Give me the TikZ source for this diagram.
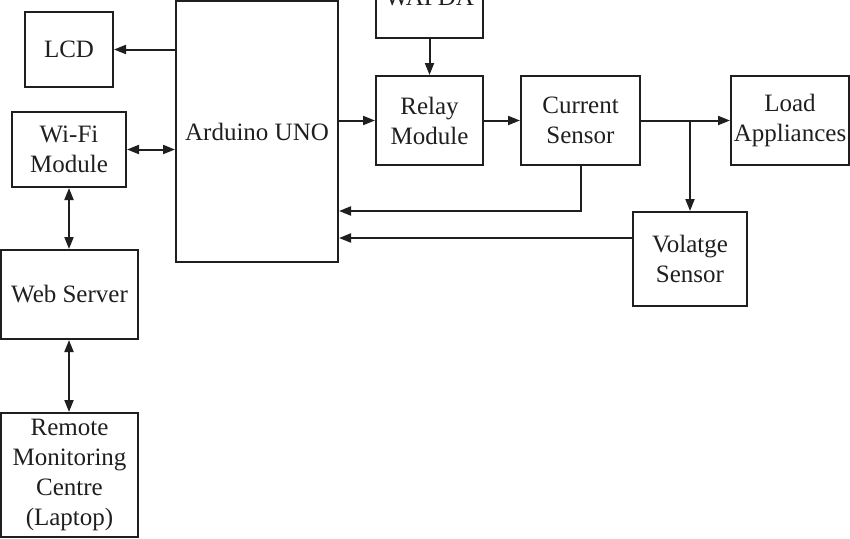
\documentclass[tikz,border=0pt]{standalone}
\usepackage{fontspec}
\setmainfont{Liberation Serif}
\usetikzlibrary{arrows.meta}
\begin{document}
\begin{tikzpicture}[x=1pt,y=-1pt,
  box/.style={draw=black!88, line width=2pt, inner sep=0pt, align=center,
    font=\fontsize{25}{30}\selectfont, text=black!88},
  conn/.style={draw=black!88, line width=2pt, -{Triangle[length=12pt,width=9pt]}},
  bconn/.style={draw=black!88, line width=2pt, {Triangle[length=12pt,width=9pt]}-{Triangle[length=12pt,width=9pt]}}]
\useasboundingbox (0,0) rectangle (850,538);
\clip (0,0) rectangle (850,538);
\node[box, minimum width=88pt, minimum height=75pt] (lcd) at (69,49.5) {LCD};
\node[box, minimum width=114pt, minimum height=75pt] (wifi) at (69,149.5) {Wi-Fi\\Module};
\node[box, minimum width=162pt, minimum height=261pt] (ard) at (257,131.5) {Arduino UNO};
\node[box, minimum width=107pt, minimum height=82pt] (wapda) at (429.5,-3) {WAPDA};
\node[box, minimum width=107pt, minimum height=89pt] (relay) at (429.5,120.5) {Relay\\Module};
\node[box, minimum width=119pt, minimum height=89pt] (cur) at (580.5,120.5) {Current\\Sensor};
\node[box, minimum width=118pt, minimum height=89pt] (load) at (790,120.5) {Load\\Appliances};
\node[box, minimum width=114pt, minimum height=94pt] (volt) at (690,259) {Volatge\\Sensor};
\node[box, minimum width=137pt, minimum height=89pt] (web) at (69.5,294.5) {Web Server};
\node[box, minimum width=137pt, minimum height=124pt] (rem) at (69.5,475) {Remote\\Monitoring\\Centre\\(Laptop)};
\coordinate (c1) at (0,211);
\coordinate (c2) at (0,238);
\draw[conn] (ard.west |- lcd.east) -- (lcd.east);
\draw[bconn] (wifi.east) -- (wifi.east -| ard.west);
\draw[conn] (relay.west -| ard.east) -- (relay.west);
\draw[conn] (wapda.south) -- (relay.north);
\draw[conn] (relay.east) -- (cur.west);
\draw[conn] (cur.east) -- (load.west);
\draw[conn] (cur.east -| volt.north) -- (volt.north);
\draw[conn] (cur.south) |- (ard.east |- c1);
\draw[conn] (volt.west |- c2) -- (ard.east |- c2);
\draw[bconn] (wifi.south) -- (wifi.south |- web.north);
\draw[bconn] (web.south -| wifi.south) -- (rem.north -| wifi.south);
\end{tikzpicture}
\end{document}
